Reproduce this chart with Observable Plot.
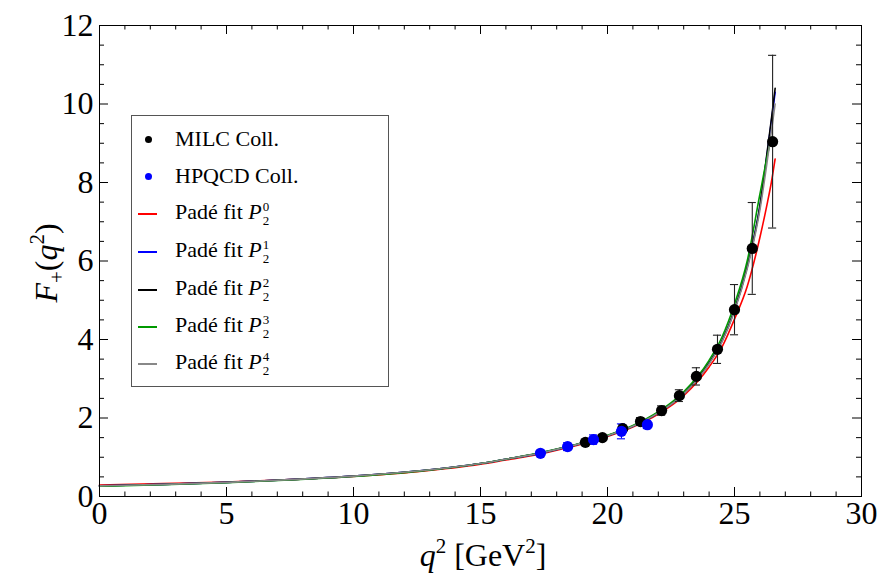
<!DOCTYPE html>
<html><head><meta charset="utf-8">
<script src="https://cdn.jsdelivr.net/npm/d3@7"></script>
<script src="https://cdn.jsdelivr.net/npm/@observablehq/plot@0.6"></script>
<style>
body{margin:0;background:#fff;}
#wrap{position:relative;width:883px;height:578px;font-family:"Liberation Serif","Times New Roman",serif;}
#legend{position:absolute;left:131px;top:115px;width:258px;height:272px;border:1px solid #555;box-sizing:border-box;background:#fff;font-family:"Liberation Serif","Times New Roman",serif;}
.row{position:absolute;left:0;width:100%;height:30px;display:flex;align-items:center;font-size:22px;color:#000;}
.row .txt{position:absolute;left:43px;white-space:nowrap;line-height:1;}
.sym-dot{position:absolute;left:13px;width:7px;height:7px;border-radius:50%;}
.sym-line{position:absolute;left:6px;width:19px;height:2.5px;}
.ss{display:inline-block;vertical-align:-6px;font-size:13px;line-height:14px;margin-left:1px;}
</style>
</head><body>
<div id="wrap"></div>
<script>
// ---- data ----
const milcQ2 = [19.13, 19.8, 20.6, 21.3, 22.13, 22.83, 23.5, 24.33, 25.0, 25.7, 26.5];
const milcF  = [1.38, 1.50, 1.73, 1.91, 2.19, 2.57, 3.06, 3.75, 4.76, 6.32, 9.04];
const milcErr= [0.08, 0.08, 0.10, 0.10, 0.12, 0.15, 0.22, 0.36, 0.64, 1.17, 2.2];

const hpqcdQ2 = [17.36, 18.43, 19.45, 20.55, 21.57];
const hpqcdF  = [1.10, 1.27, 1.45, 1.66, 1.83];
const hpqcdErr= [0.03, 0.10, 0.12, 0.19, 0.10];

const fitQ2 = [0, 2.5, 5, 7.5, 10, 12.5, 15, 16, 17, 18, 19, 20, 21, 22, 23, 24, 24.5, 25, 25.5, 26, 26.3, 26.45, 26.6];
const fitP20 = [0.29,0.33,0.37,0.43,0.51,0.63,0.82,0.93,1.04,1.18,1.34,1.53,1.77,2.10,2.57,3.30,3.80,4.52,5.35,6.60,7.50,8.00,8.60];
const fitP21 = [0.27,0.31,0.36,0.43,0.52,0.65,0.84,0.95,1.06,1.20,1.36,1.55,1.79,2.13,2.62,3.40,3.95,4.75,5.85,7.40,8.80,9.55,10.30];
const fitP22 = [0.27,0.31,0.36,0.43,0.52,0.65,0.84,0.95,1.06,1.20,1.36,1.55,1.79,2.13,2.62,3.40,3.95,4.75,5.85,7.40,8.85,9.60,10.40];
const fitP23 = [0.26,0.30,0.35,0.42,0.51,0.64,0.84,0.95,1.07,1.21,1.37,1.56,1.81,2.16,2.67,3.47,4.05,4.90,6.00,7.70,8.70,9.15,null];
const fitP24 = [0.27,0.31,0.36,0.43,0.52,0.65,0.84,0.95,1.06,1.20,1.36,1.55,1.79,2.13,2.61,3.38,3.93,4.72,5.80,7.30,8.60,9.30,10.00];

const fitNames = ["0","1","2","3","4"];
const fitColors = ["#ff0000","#0000ff","#000000","#009900","#888888"];
const fitVals = [fitP20, fitP21, fitP22, fitP23, fitP24];

const xTicks = [0,5,10,15,20,25,30];
const yTicks = [0,2,4,6,8,10,12];

// ---- build ----
const milc = milcQ2.map((q,i)=>({q, f:milcF[i], e:milcErr[i]}));
const hpqcd = hpqcdQ2.map((q,i)=>({q, f:hpqcdF[i], e:hpqcdErr[i]}));
const fits = fitVals.map((vals,k)=>fitQ2.map((q,i)=>({q, f:vals[i]})).filter(d=>d.f!=null));

const W=883, H=578, mL=99, mR=22, mT=25, mB=82;
const iW = W-mL-mR, iH = H-mT-mB;
const xMinor = d3.range(0,31,1).filter(v=>v%5!==0);
const yMinor = d3.range(0,12.01,0.5).filter(v=>v%2!==0);
const capHalf = 0.16;

const errMarks = (data, color) => [
  Plot.ruleX(data, {x:"q", y1:d=>d.f-d.e, y2:d=>d.f+d.e, stroke:color, strokeWidth:1.1}),
  Plot.ruleY(data, {y:d=>d.f+d.e, x1:d=>d.q-capHalf, x2:d=>d.q+capHalf, stroke:color, strokeWidth:1.1}),
  Plot.ruleY(data, {y:d=>d.f-d.e, x1:d=>d.q-capHalf, x2:d=>d.q+capHalf, stroke:color, strokeWidth:1.1})
];

const svg = Plot.plot({
  width: W, height: H,
  marginLeft: mL, marginRight: mR, marginTop: mT, marginBottom: mB,
  style: {fontFamily: '"Liberation Serif", "Times New Roman", serif', fontSize: "32px", background: "white", color: "black"},
  x: {domain:[0,30], ticks: xTicks, tickSize:0, tickPadding:5, label:null, tickFormat: d=>String(d)},
  y: {domain:[0,12], ticks: yTicks, tickSize:0, tickPadding:6, label:null, tickFormat: d=>String(d)},
  marks: [
    Plot.ruleX(xTicks, {x:d=>d, insetTop: iH-9, stroke:"black"}),
    Plot.ruleX(xTicks, {x:d=>d, insetBottom: iH-9, stroke:"black"}),
    Plot.ruleX(xMinor, {x:d=>d, insetTop: iH-4.5, stroke:"black"}),
    Plot.ruleX(xMinor, {x:d=>d, insetBottom: iH-4.5, stroke:"black"}),
    Plot.ruleY(yTicks, {y:d=>d, insetRight: iW-9, stroke:"black"}),
    Plot.ruleY(yTicks, {y:d=>d, insetLeft: iW-9, stroke:"black"}),
    Plot.ruleY(yMinor, {y:d=>d, insetRight: iW-5, stroke:"black"}),
    Plot.ruleY(yMinor, {y:d=>d, insetLeft: iW-5, stroke:"black"}),
    ...fits.map((data,k)=>Plot.line(data, {x:"q", y:"f", stroke:fitColors[k], strokeWidth:1.6, curve:"monotone-x"})),
    ...errMarks(milc, "#222"),
    ...errMarks(hpqcd, "#0000ff"),
    Plot.dot(milc, {x:"q", y:"f", r:5.6, fill:"black"}),
    Plot.dot(hpqcd, {x:"q", y:"f", r:5.6, fill:"#0000ff"}),
    Plot.frame({stroke:"black", strokeWidth:1})
  ]
});
document.getElementById("wrap").appendChild(svg);

const s = d3.select(svg);
// y label
const yl = s.append("text").attr("transform","translate(57,263) rotate(-90)")
  .attr("text-anchor","middle").attr("font-size",32).attr("fill","black");
yl.append("tspan").attr("font-style","italic").text("F");
yl.append("tspan").attr("font-size",21).attr("dy",7).text("+");
yl.append("tspan").attr("dy",-7).text("(");
yl.append("tspan").attr("font-style","italic").text("q");
yl.append("tspan").attr("font-size",21).attr("dy",-13).text("2");
yl.append("tspan").attr("dy",13).text(")");
// x label
const xl = s.append("text").attr("x",483).attr("y",566)
  .attr("text-anchor","middle").attr("font-size",32).attr("fill","black");
xl.append("tspan").attr("font-style","italic").text("q");
xl.append("tspan").attr("font-size",21).attr("dy",-13).text("2");
xl.append("tspan").attr("dy",13).text(" [GeV");
xl.append("tspan").attr("font-size",21).attr("dy",-13).text("2");
xl.append("tspan").attr("dy",13).text("]");

// legend
const leg = document.createElement("div");
leg.id = "legend";
const rowsY = [23, 60, 98, 136, 174, 211, 248];
const items = [
  {type:"dot", color:"#000", html:"MILC Coll."},
  {type:"dot", color:"#0000ff", html:"HPQCD Coll."},
  ...fitNames.map((n,k)=>({type:"line", color:fitColors[k], html:`Padé fit <i>P</i><span class="ss">${n}<br>2</span>`}))
];
items.forEach((it,i)=>{
  const r = document.createElement("div");
  r.className = "row";
  r.style.top = (rowsY[i]-15)+"px";
  const sym = document.createElement("div");
  sym.className = it.type==="dot" ? "sym-dot" : "sym-line";
  sym.style.background = it.color;
  r.appendChild(sym);
  const t = document.createElement("span");
  t.className = "txt";
  t.innerHTML = it.html;
  r.appendChild(t);
  leg.appendChild(r);
});
document.getElementById("wrap").appendChild(leg);
</script>
</body></html>
